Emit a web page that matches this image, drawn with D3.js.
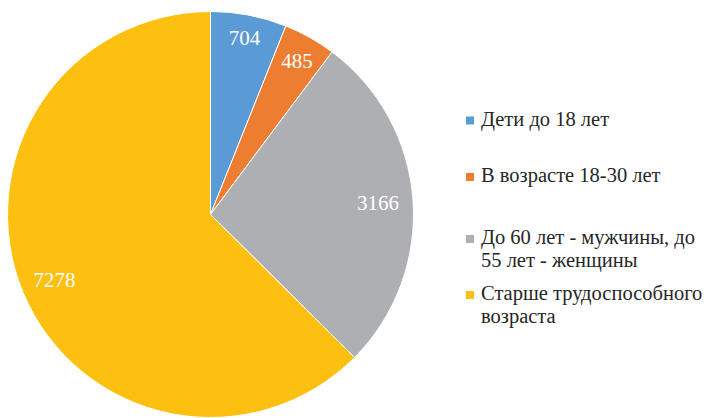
<!DOCTYPE html>
<html>
<head>
<meta charset="utf-8">
<script src="https://cdn.jsdelivr.net/npm/d3@7"></script>
</head>
<body style="margin:0">
<script>
const categories = ["Дети до 18 лет", "В возрасте 18-30 лет", "До 60 лет - мужчины, до 55 лет - женщины", "Старше трудоспособного возраста"];
const legendLines = [["Дети до 18 лет"], ["В возрасте 18-30 лет"], ["До 60 лет - мужчины, до", "55 лет - женщины"], ["Старше трудоспособного", "возраста"]];
const values = [704, 485, 3166, 7278];
const colors = ["#5B9BD5", "#ED7D31", "#AEAFB2", "#FDC010"];

function main(){
  const width = 711, height = 418;
  const cx = 210.5, cy = 214.5, r = 203;
  const font = "'Liberation Serif'";

  // canvas
  const svg = d3.select("body")
    .append("svg")
    .attr("width", width)
    .attr("height", height);

  const data = values.map((v, i) => ({name: categories[i], value: v, color: colors[i]}));

  const pie = d3.pie().value(d => d.value).sort(null);
  const arcs = pie(data);

  const arc = d3.arc().innerRadius(0).outerRadius(r);

  const g = svg.append("g")
    .attr("transform", `translate(${cx}, ${cy})`);

  // slices
  g.selectAll("path")
    .data(arcs)
    .join("path")
    .attr("d", arc)
    .attr("fill", d => d.data.color)
    .attr("stroke", "#fff")
    .attr("stroke-width", 1);

  // value labels, pulled inward a bit more for wide labels on the sides
  const labels = g.selectAll("text.val")
    .data(arcs)
    .join("text")
    .attr("class", "val")
    .attr("text-anchor", "middle")
    .attr("dy", "0.35em")
    .attr("fill", "#fff")
    .style("font-family", font)
    .style("font-size", "21px")
    .text(d => d.data.value);

  labels.attr("transform", function(d) {
    const half = this.getComputedTextLength() / 2;
    const mid = (d.startAngle + d.endAngle) / 2;
    const rr = 182 - 0.67 * half * Math.abs(Math.sin(mid));
    const p = d3.arc().innerRadius(rr).outerRadius(rr).centroid(d);
    return `translate(${p[0]}, ${p[1]})`;
  });

  // legend
  const legendY = [125.5, 182, 244, 300];
  const legend = svg.append("g")
    .selectAll("g")
    .data(data)
    .join("g")
    .attr("transform", (d, i) => `translate(466, ${legendY[i]})`);

  legend.append("rect")
    .attr("x", 0)
    .attr("y", -9)
    .attr("width", 8)
    .attr("height", 8)
    .attr("fill", d => d.color);

  legend.append("text")
    .attr("fill", "#262626")
    .style("font-family", font)
    .style("font-size", "20.5px")
    .selectAll("tspan")
    .data((d, i) => legendLines[i])
    .join("tspan")
    .attr("x", 15)
    .attr("dy", (d, j) => j === 0 ? 0 : 22.8)
    .text(d => d);
}

main();
</script>
</body>
</html>
